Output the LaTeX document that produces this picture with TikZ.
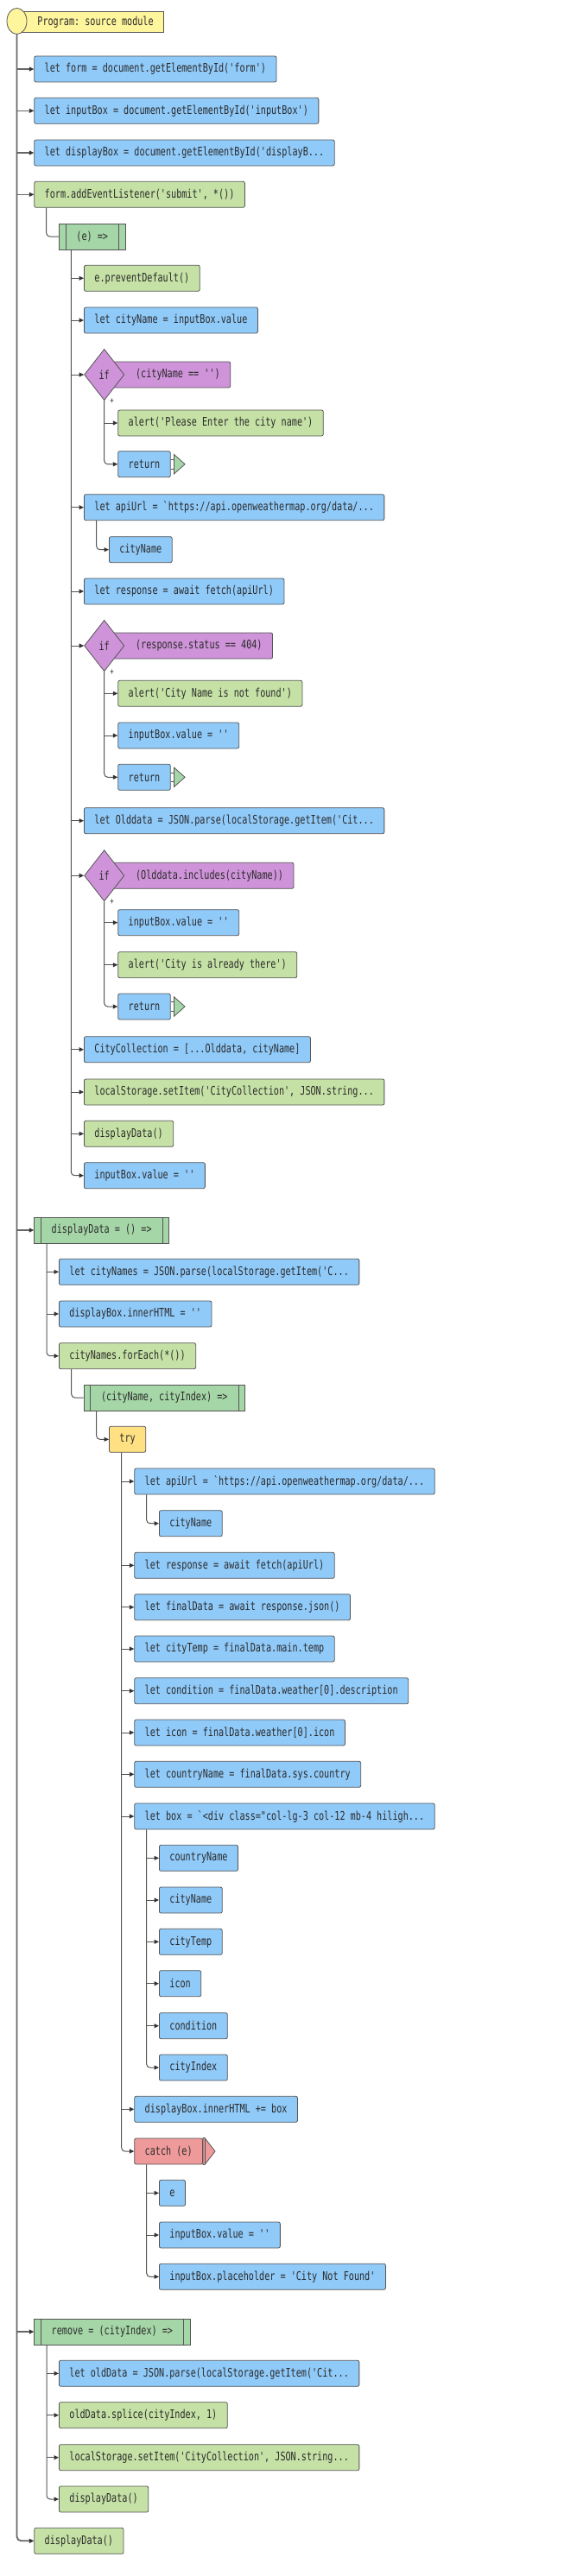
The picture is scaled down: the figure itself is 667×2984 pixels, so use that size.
\documentclass[tikz,border=0pt]{standalone}
\usepackage{fontspec}
\setmonofont{DejaVu Sans Mono}[FakeStretch=0.74]
\usetikzlibrary{shapes.geometric,arrows.meta,calc}
\definecolor{cblue}{HTML}{90CAF9}
\definecolor{cgreen}{HTML}{C5E1A5}
\definecolor{clam}{HTML}{A5D6A7}
\definecolor{cpurp}{HTML}{CE93D8}
\definecolor{cyell}{HTML}{FFF59D}
\definecolor{camber}{HTML}{FFE082}
\definecolor{cred}{HTML}{EF9A9A}
\definecolor{cedge}{HTML}{555555}
\definecolor{ctext}{HTML}{2A2A2A}
\definecolor{cline}{HTML}{555555}
\definecolor{cmain}{HTML}{666666}
\definecolor{ctip}{HTML}{333333}
\newcommand\lamlines[1]{%
  \draw[cedge,line width=0.8pt] ([xshift=8pt]#1.north west) -- ([xshift=8pt]#1.south west);
  \draw[cedge,line width=0.8pt] ([xshift=-8pt]#1.north east) -- ([xshift=-8pt]#1.south east);}
\newcommand\retterm[1]{%
  \draw[cedge,line width=0.8pt] ([yshift=5.3pt]#1.east) -- ++(3.7,0);
  \draw[cedge,line width=0.8pt] ([yshift=-5.3pt]#1.east) -- ++(3.7,0);
  \draw[cedge,fill=clam,line width=0.8pt] ([xshift=3.7pt,yshift=11.3pt]#1.east) -- ([xshift=16.4pt]#1.east) -- ([xshift=3.7pt,yshift=-11.3pt]#1.east) -- cycle;}
\begin{document}
\begin{tikzpicture}[x=1pt,y=-1pt,
  every node/.style={font=\ttfamily\fontsize{13.7}{15}\selectfont, text=ctext},
  box/.style={draw=cedge, line width=0.8pt, rounded corners=2pt, minimum height=30pt, inner xsep=12pt, inner ysep=0pt, anchor=west},
  bl/.style={box, fill=cblue},
  gr/.style={box, fill=cgreen},
  tr/.style={box, fill=camber},
  ct/.style={box, fill=cred},
  cond/.style={box, fill=cpurp},
  lam/.style={draw=cedge, line width=0.8pt, fill=clam, minimum height=30pt, inner xsep=20pt, inner ysep=0pt, anchor=west},
  ifd/.style={diamond, draw=cedge, line width=0.8pt, fill=cpurp, minimum width=46.3pt, minimum height=59.3pt, inner sep=0pt},
  plusl/.style={font=\ttfamily\fontsize{10}{11}\selectfont, inner sep=0pt},
  arr/.style={draw=cline, line width=1pt, -{Triangle[length=5.5pt,width=5pt,color=ctip]}},
  arrm/.style={draw=cmain, line width=1.3pt, -{Triangle[length=5.5pt,width=5pt,color=ctip]}},
  sub/.style={draw=cline, line width=1pt, rounded corners=4pt},
  trunk/.style={draw=cmain, line width=1.8pt, rounded corners=5pt}]
\useasboundingbox (0,0) rectangle (667,2984);

% title
\node[draw=cedge, line width=0.8pt, fill=cyell, minimum height=24.4pt, inner xsep=12pt, inner ysep=0pt, anchor=west] (title) at (20,25.5) {\hspace*{11pt}Program: source module};
\node[ellipse, draw=cedge, line width=0.8pt, fill=cyell, minimum width=23pt, minimum height=30pt, inner sep=0pt] (start) at (19.5,24.5) {};

% top level
\node[bl] (n1) at (39.3,80) {let form = document.getElementById('form')};
\node[bl] (n2) at (39.3,128.3) {let inputBox = document.getElementById('inputBox')};
\node[bl] (n3) at (39.3,177) {let displayBox = document.getElementById('displayB...};
\node[gr] (n4) at (39.3,225.3) {form.addEventListener('submit', *())};

% (e) =>
\node[lam] (L1) at (68,274) {(e) =>};
\lamlines{L1}
\node[gr] (a1) at (97,322.3) {e.preventDefault()};
\node[bl] (a2) at (97,371) {let cityName = inputBox.value};
\node[cond] (if1c) at (128,434) {\hspace*{16.7pt}(cityName == '')};
\node[ifd] (if1) at (120.7,434) {if};
\node[plusl] (p1) at ([xshift=9pt,yshift=-0.5pt]if1.south) {+};
\node[gr] (a3) at (136.3,490) {alert('Please Enter the city name')};
\node[bl] (a4) at (136.3,537.7) {return};
\retterm{a4}
\node[bl] (a5) at (97,587.7) {let apiUrl = `https://api.openweathermap.org/data/...};
\node[bl] (a6) at (126,636.7) {cityName};
\node[bl] (a7) at (97,685) {let response = await fetch(apiUrl)};
\node[cond] (if2c) at (128,748) {\hspace*{16.7pt}(response.status == 404)};
\node[ifd] (if2) at (120.7,748) {if};
\node[plusl] (p2) at ([xshift=9pt,yshift=-0.5pt]if2.south) {+};
\node[gr] (a8) at (136.3,803.3) {alert('City Name is not found')};
\node[bl] (a9) at (136.3,852) {inputBox.value = ''};
\node[bl] (a10) at (136.3,900.3) {return};
\retterm{a10}
\node[bl] (a11) at (97,950.7) {let Olddata = JSON.parse(localStorage.getItem('Cit...};
\node[cond] (if3c) at (128,1014.3) {\hspace*{16.7pt}(Olddata.includes(cityName))};
\node[ifd] (if3) at (120.7,1014.3) {if};
\node[plusl] (p3) at ([xshift=9pt,yshift=-0.5pt]if3.south) {+};
\node[bl] (a12) at (136.3,1068.7) {inputBox.value = ''};
\node[gr] (a13) at (136.3,1117.7) {alert('City is already there')};
\node[bl] (a14) at (136.3,1166) {return};
\retterm{a14}
\node[bl] (a15) at (97,1215.7) {CityCollection = [...Olddata, cityName]};
\node[gr] (a16) at (97,1265) {localStorage.setItem('CityCollection', JSON.string...};
\node[gr] (a17) at (97,1313.3) {displayData()};
\node[bl] (a18) at (97,1361.7) {inputBox.value = ''};

% displayData = () =>
\node[lam] (L2) at (39.3,1425) {displayData = () =>};
\lamlines{L2}
\node[bl] (b1) at (68,1473.3) {let cityNames = JSON.parse(localStorage.getItem('C...};
\node[bl] (b2) at (68,1522) {displayBox.innerHTML = ''};
\node[gr] (b3) at (68,1570.7) {cityNames.forEach(*())};
\node[lam] (L3) at (96.7,1619) {(cityName, cityIndex) =>};
\lamlines{L3}
\node[tr] (t) at (126,1667.3) {try};
\node[bl] (c1) at (155.3,1716) {let apiUrl = `https://api.openweathermap.org/data/...};
\node[bl] (c1a) at (184,1764.7) {cityName};
\node[bl] (c2) at (155.3,1813.3) {let response = await fetch(apiUrl)};
\node[bl] (c3) at (155.3,1861.7) {let finalData = await response.json()};
\node[bl] (c4) at (155.3,1910) {let cityTemp = finalData.main.temp};
\node[bl] (c5) at (155.3,1958.7) {let condition = finalData.weather[0].description};
\node[bl] (c6) at (155.3,2007) {let icon = finalData.weather[0].icon};
\node[bl] (c7) at (155.3,2055.3) {let countryName = finalData.sys.country};
\node[bl] (c8) at (155.3,2104) {let box = `<div class="col-lg-3 col-12 mb-4 hiligh...};
\node[bl] (d1) at (184,2152.3) {countryName};
\node[bl] (d2) at (184,2201) {cityName};
\node[bl] (d3) at (184,2249.3) {cityTemp};
\node[bl] (d4) at (184,2297.7) {icon};
\node[bl] (d5) at (184,2346.7) {condition};
\node[bl] (d6) at (184,2395) {cityIndex};
\node[bl] (c9) at (155.3,2443.3) {displayBox.innerHTML += box};
\node[ct] (k) at (155.3,2492) {catch (e)};
\draw[draw=cedge, fill=cred, line width=0.8pt] (k.north east) -- ([xshift=2pt]k.north east) -- ([xshift=14pt]k.east) -- ([xshift=2pt]k.south east) -- (k.south east) -- cycle;
\draw[cedge, line width=0.8pt] ([xshift=2pt]k.north east) -- ([xshift=2pt]k.south east);
\node[bl] (e1) at (184,2540.3) {e};
\node[bl] (e2) at (184,2589) {inputBox.value = ''};
\node[bl] (e3) at (184,2637.3) {inputBox.placeholder = 'City Not Found'};

% remove
\node[lam] (L4) at (39.3,2701) {remove = (cityIndex) =>};
\lamlines{L4}
\node[bl] (r1) at (68,2749.3) {let oldData = JSON.parse(localStorage.getItem('Cit...};
\node[gr] (r2) at (68,2797.7) {oldData.splice(cityIndex, 1)};
\node[gr] (r3) at (68,2846.7) {localStorage.setItem('CityCollection', JSON.string...};
\node[gr] (r4) at (68,2895) {displayData()};
\node[gr] (m5) at (39.3,2943.3) {displayData()};

% ---- connectors ----
\draw[trunk, -{Triangle[length=5.5pt,width=5pt,color=ctip]}] (start.south) |- (m5.west);
\foreach \n in {n1,n2,n3,n4,L2,L4} \draw[arrm] (start.south |- \n.west) -- (\n.west);

\coordinate (n4t) at ([xshift=14.4pt]n4.south west);
\draw[sub] (n4t) |- (L1.west);

\coordinate (L1t) at ([xshift=14.3pt]L1.south west);
\draw[sub,arr] (L1t) |- (a18.west);
\foreach \n in {a1,a2,if1,a5,a7,if2,a11,if3,a15,a16,a17} \draw[arr] (L1t |- \n.west) -- (\n.west);

\draw[sub,arr] (if1.south) |- (a4.west);
\draw[arr] (if1.south |- a3.west) -- (a3.west);
\draw[sub,arr] (if2.south) |- (a10.west);
\foreach \n in {a8,a9} \draw[arr] (if2.south |- \n.west) -- (\n.west);
\draw[sub,arr] (if3.south) |- (a14.west);
\foreach \n in {a12,a13} \draw[arr] (if3.south |- \n.west) -- (\n.west);

\coordinate (a5t) at ([xshift=14.7pt]a5.south west);
\draw[sub,arr] (a5t) |- (a6.west);

\coordinate (L2t) at ([xshift=14.7pt]L2.south west);
\draw[sub,arr] (L2t) |- (b3.west);
\foreach \n in {b1,b2} \draw[arr] (L2t |- \n.west) -- (\n.west);

\coordinate (b3t) at ([xshift=14.7pt]b3.south west);
\draw[sub] (b3t) |- (L3.west);

\coordinate (L3t) at ([xshift=15pt]L3.south west);
\draw[sub,arr] (L3t) |- (t.west);

\coordinate (tt) at ([xshift=14.7pt]t.south west);
\draw[sub,arr] (tt) |- (k.west);
\foreach \n in {c1,c2,c3,c4,c5,c6,c7,c8,c9} \draw[arr] (tt |- \n.west) -- (\n.west);

\coordinate (c1t) at ([xshift=14.4pt]c1.south west);
\draw[sub,arr] (c1t) |- (c1a.west);

\coordinate (c8t) at ([xshift=14.4pt]c8.south west);
\draw[sub,arr] (c8t) |- (d6.west);
\foreach \n in {d1,d2,d3,d4,d5} \draw[arr] (c8t |- \n.west) -- (\n.west);

\coordinate (kt) at ([xshift=14.4pt]k.south west);
\draw[sub,arr] (kt) |- (e3.west);
\foreach \n in {e1,e2} \draw[arr] (kt |- \n.west) -- (\n.west);

\coordinate (L4t) at ([xshift=14.7pt]L4.south west);
\draw[sub,arr] (L4t) |- (r4.west);
\foreach \n in {r1,r2,r3} \draw[arr] (L4t |- \n.west) -- (\n.west);
\end{tikzpicture}
\end{document}
